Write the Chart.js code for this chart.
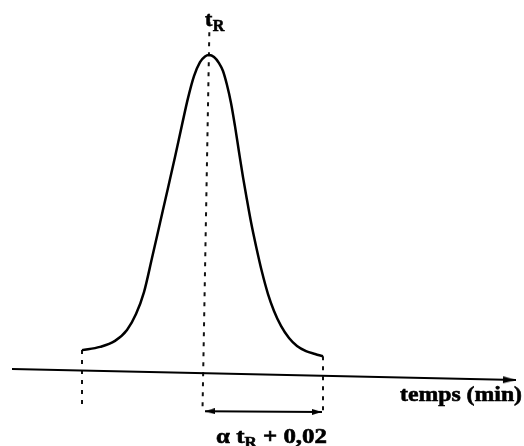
<!DOCTYPE html>
<html><head><meta charset="utf-8">
<script src="https://cdn.jsdelivr.net/npm/chart.js@4"></script>
<style>html,body{margin:0;padding:0;background:#fff;}canvas{display:block;}</style>
</head><body>
<canvas id="c" width="524" height="446"></canvas>
<script>
// Peak (time in min, normalized signal)
const peakTime = [1.64,2.00,2.30,2.54,2.72,2.88,3.04,3.20,3.36,3.50,3.64,3.76,3.88,4.00,4.10,4.18,4.28,4.38,4.46,4.54,4.62,4.70,4.78,4.86,4.94,5.02,5.12,5.24,5.36,5.48,5.62,5.78,5.94,6.12,6.30,6.46];
const peakSignal = [0.071,0.081,0.100,0.134,0.184,0.253,0.360,0.470,0.580,0.677,0.778,0.862,0.931,0.975,0.993,0.997,0.991,0.972,0.947,0.903,0.847,0.774,0.693,0.614,0.542,0.473,0.398,0.316,0.247,0.194,0.147,0.109,0.084,0.068,0.059,0.052];
// Time axis
const axisTime = [0.24, 10.32];
const axisSignal = [0.012, -0.023];
// Dashed markers
const startLineTime = [1.64, 1.64];
const startLineSignal = [0.071, -0.111];
const tRLineTime = [4.19, 4.05];
const tRLineSignal = [1.10, -0.117];
const endLineTime = [6.46, 6.46];
const endLineSignal = [0.052, -0.123];
// Width arrow
const widthArrowTime = [4.10, 6.44];
const widthArrowSignal = [-0.121, -0.123];
// Labels
const labelTR = ['t', 'R'];
const labelAxis = 'temps (min)';
const labelWidth = ['α t', 'R', ' + 0,02'];

const pts = (xs, ys) => xs.map((x, i) => ({x, y: ys[i]}));

function makeArrow(len, h) {
  const c = document.createElement('canvas');
  c.width = 2 * len; c.height = h;
  const g = c.getContext('2d');
  g.fillStyle = '#000';
  g.beginPath(); g.moveTo(0, 0); g.lineTo(len, h / 2); g.lineTo(0, h); g.closePath(); g.fill();
  return c;
}
const axisArrow = makeArrow(13, 7);
const dimArrow = makeArrow(10, 6);

const SERIF = '"Liberation Serif", "DejaVu Serif", serif';

function boldText(ctx, s, x, y) {
  ctx.fillText(s, x, y);
  ctx.strokeText(s, x, y);
}

const textPlugin = {
  id: 'texts',
  afterDatasetsDraw(chart) {
    const ctx = chart.ctx;
    const xs = chart.scales.x, ys = chart.scales.y;
    ctx.save();
    ctx.fillStyle = '#000';
    ctx.strokeStyle = '#000';
    ctx.lineWidth = 0.6;
    ctx.textBaseline = 'alphabetic';
    // tR label above the retention line
    const tx = xs.getPixelForValue(tRLineTime[0]);
    const ty = ys.getPixelForValue(tRLineSignal[0]);
    ctx.font = 'bold 22px ' + SERIF;
    boldText(ctx, labelTR[0], tx - 4.5, ty + 4);
    const w1 = ctx.measureText(labelTR[0]).width;
    ctx.font = 'bold 16px ' + SERIF;
    boldText(ctx, labelTR[1], tx - 4.5 + w1 + 0.5, ty + 9);

    // axis label
    ctx.font = 'bold 22px ' + SERIF;
    const wa = ctx.measureText(labelAxis).width;
    ctx.save();
    ctx.translate(400, 401);
    ctx.scale(122 / wa, 1);
    boldText(ctx, labelAxis, 0, 0);
    ctx.restore();

    // width label
    ctx.font = 'bold 22px ' + SERIF;
    const p0 = ctx.measureText(labelWidth[0]).width;
    const p2 = ctx.measureText(labelWidth[2]).width;
    ctx.font = 'bold 15px ' + SERIF;
    const p1 = ctx.measureText(labelWidth[1]).width;
    const total = p0 + p1 + p2;
    ctx.save();
    ctx.translate(216, 443);
    ctx.scale(111 / total, 1);
    ctx.font = 'bold 22px ' + SERIF;
    boldText(ctx, labelWidth[0], 0, 0);
    ctx.font = 'bold 15px ' + SERIF;
    boldText(ctx, labelWidth[1], p0, 4);
    ctx.font = 'bold 22px ' + SERIF;
    boldText(ctx, labelWidth[2], p0 + p1, 0);
    ctx.restore();
    ctx.restore();
  }
};

const dashed = (xs, ys) => ({
  data: pts(xs, ys), showLine: true, borderColor: '#111', borderWidth: 2,
  borderDash: [4, 6], pointRadius: 0, fill: false
});

new Chart(document.getElementById('c'), {
  type: 'scatter',
  data: {
    datasets: [
      { data: pts(peakTime, peakSignal), showLine: true, borderColor: '#000', borderWidth: 2.5,
        pointRadius: 0, cubicInterpolationMode: 'monotone', fill: false },
      { data: pts(axisTime, axisSignal), showLine: true, borderColor: '#000', borderWidth: 2,
        pointRadius: [0, 5], pointStyle: axisArrow, pointRotation: [0, 1.25] },
      dashed(startLineTime, startLineSignal),
      dashed(tRLineTime, tRLineSignal),
      dashed(endLineTime, endLineSignal),
      { data: pts(widthArrowTime, widthArrowSignal), showLine: true, borderColor: '#000', borderWidth: 2,
        pointRadius: [5, 5], pointStyle: dimArrow, pointRotation: [180, 0] }
    ]
  },
  options: {
    responsive: false,
    animation: false,
    layout: { padding: 0, autoPadding: false },
    plugins: { legend: { display: false }, tooltip: { enabled: false } },
    scales: {
      x: { type: 'linear', display: false, min: 0, max: 10.48 },
      y: { type: 'linear', display: false, min: -0.23, max: 1.17 }
    }
  },
  plugins: [textPlugin]
});
</script>
</body></html>
